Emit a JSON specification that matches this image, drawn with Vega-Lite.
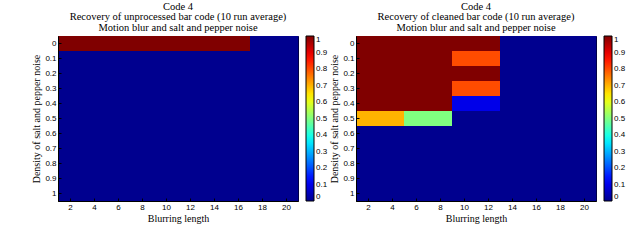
{
"$schema": "https://vega.github.io/schema/vega-lite/v6.json",
"background": "white",
"padding": {"left": 31, "top": 1, "right": 5, "bottom": 5},
"datasets": {
"unprocessed": [
{"b":1,"d":0,"v":1},{"b":2,"d":0,"v":1},{"b":3,"d":0,"v":1},{"b":4,"d":0,"v":1},{"b":5,"d":0,"v":1},{"b":6,"d":0,"v":1},{"b":7,"d":0,"v":1},{"b":8,"d":0,"v":1},{"b":9,"d":0,"v":1},{"b":10,"d":0,"v":1},{"b":11,"d":0,"v":1},{"b":12,"d":0,"v":1},{"b":13,"d":0,"v":1},{"b":14,"d":0,"v":1},{"b":15,"d":0,"v":1},{"b":16,"d":0,"v":1},{"b":17,"d":0,"v":0},{"b":18,"d":0,"v":0},{"b":19,"d":0,"v":0},{"b":20,"d":0,"v":0},
{"b":1,"d":0.1,"v":0},{"b":2,"d":0.1,"v":0},{"b":3,"d":0.1,"v":0},{"b":4,"d":0.1,"v":0},{"b":5,"d":0.1,"v":0},{"b":6,"d":0.1,"v":0},{"b":7,"d":0.1,"v":0},{"b":8,"d":0.1,"v":0},{"b":9,"d":0.1,"v":0},{"b":10,"d":0.1,"v":0},{"b":11,"d":0.1,"v":0},{"b":12,"d":0.1,"v":0},{"b":13,"d":0.1,"v":0},{"b":14,"d":0.1,"v":0},{"b":15,"d":0.1,"v":0},{"b":16,"d":0.1,"v":0},{"b":17,"d":0.1,"v":0},{"b":18,"d":0.1,"v":0},{"b":19,"d":0.1,"v":0},{"b":20,"d":0.1,"v":0},
{"b":1,"d":0.2,"v":0},{"b":2,"d":0.2,"v":0},{"b":3,"d":0.2,"v":0},{"b":4,"d":0.2,"v":0},{"b":5,"d":0.2,"v":0},{"b":6,"d":0.2,"v":0},{"b":7,"d":0.2,"v":0},{"b":8,"d":0.2,"v":0},{"b":9,"d":0.2,"v":0},{"b":10,"d":0.2,"v":0},{"b":11,"d":0.2,"v":0},{"b":12,"d":0.2,"v":0},{"b":13,"d":0.2,"v":0},{"b":14,"d":0.2,"v":0},{"b":15,"d":0.2,"v":0},{"b":16,"d":0.2,"v":0},{"b":17,"d":0.2,"v":0},{"b":18,"d":0.2,"v":0},{"b":19,"d":0.2,"v":0},{"b":20,"d":0.2,"v":0},
{"b":1,"d":0.3,"v":0},{"b":2,"d":0.3,"v":0},{"b":3,"d":0.3,"v":0},{"b":4,"d":0.3,"v":0},{"b":5,"d":0.3,"v":0},{"b":6,"d":0.3,"v":0},{"b":7,"d":0.3,"v":0},{"b":8,"d":0.3,"v":0},{"b":9,"d":0.3,"v":0},{"b":10,"d":0.3,"v":0},{"b":11,"d":0.3,"v":0},{"b":12,"d":0.3,"v":0},{"b":13,"d":0.3,"v":0},{"b":14,"d":0.3,"v":0},{"b":15,"d":0.3,"v":0},{"b":16,"d":0.3,"v":0},{"b":17,"d":0.3,"v":0},{"b":18,"d":0.3,"v":0},{"b":19,"d":0.3,"v":0},{"b":20,"d":0.3,"v":0},
{"b":1,"d":0.4,"v":0},{"b":2,"d":0.4,"v":0},{"b":3,"d":0.4,"v":0},{"b":4,"d":0.4,"v":0},{"b":5,"d":0.4,"v":0},{"b":6,"d":0.4,"v":0},{"b":7,"d":0.4,"v":0},{"b":8,"d":0.4,"v":0},{"b":9,"d":0.4,"v":0},{"b":10,"d":0.4,"v":0},{"b":11,"d":0.4,"v":0},{"b":12,"d":0.4,"v":0},{"b":13,"d":0.4,"v":0},{"b":14,"d":0.4,"v":0},{"b":15,"d":0.4,"v":0},{"b":16,"d":0.4,"v":0},{"b":17,"d":0.4,"v":0},{"b":18,"d":0.4,"v":0},{"b":19,"d":0.4,"v":0},{"b":20,"d":0.4,"v":0},
{"b":1,"d":0.5,"v":0},{"b":2,"d":0.5,"v":0},{"b":3,"d":0.5,"v":0},{"b":4,"d":0.5,"v":0},{"b":5,"d":0.5,"v":0},{"b":6,"d":0.5,"v":0},{"b":7,"d":0.5,"v":0},{"b":8,"d":0.5,"v":0},{"b":9,"d":0.5,"v":0},{"b":10,"d":0.5,"v":0},{"b":11,"d":0.5,"v":0},{"b":12,"d":0.5,"v":0},{"b":13,"d":0.5,"v":0},{"b":14,"d":0.5,"v":0},{"b":15,"d":0.5,"v":0},{"b":16,"d":0.5,"v":0},{"b":17,"d":0.5,"v":0},{"b":18,"d":0.5,"v":0},{"b":19,"d":0.5,"v":0},{"b":20,"d":0.5,"v":0},
{"b":1,"d":0.6,"v":0},{"b":2,"d":0.6,"v":0},{"b":3,"d":0.6,"v":0},{"b":4,"d":0.6,"v":0},{"b":5,"d":0.6,"v":0},{"b":6,"d":0.6,"v":0},{"b":7,"d":0.6,"v":0},{"b":8,"d":0.6,"v":0},{"b":9,"d":0.6,"v":0},{"b":10,"d":0.6,"v":0},{"b":11,"d":0.6,"v":0},{"b":12,"d":0.6,"v":0},{"b":13,"d":0.6,"v":0},{"b":14,"d":0.6,"v":0},{"b":15,"d":0.6,"v":0},{"b":16,"d":0.6,"v":0},{"b":17,"d":0.6,"v":0},{"b":18,"d":0.6,"v":0},{"b":19,"d":0.6,"v":0},{"b":20,"d":0.6,"v":0},
{"b":1,"d":0.7,"v":0},{"b":2,"d":0.7,"v":0},{"b":3,"d":0.7,"v":0},{"b":4,"d":0.7,"v":0},{"b":5,"d":0.7,"v":0},{"b":6,"d":0.7,"v":0},{"b":7,"d":0.7,"v":0},{"b":8,"d":0.7,"v":0},{"b":9,"d":0.7,"v":0},{"b":10,"d":0.7,"v":0},{"b":11,"d":0.7,"v":0},{"b":12,"d":0.7,"v":0},{"b":13,"d":0.7,"v":0},{"b":14,"d":0.7,"v":0},{"b":15,"d":0.7,"v":0},{"b":16,"d":0.7,"v":0},{"b":17,"d":0.7,"v":0},{"b":18,"d":0.7,"v":0},{"b":19,"d":0.7,"v":0},{"b":20,"d":0.7,"v":0},
{"b":1,"d":0.8,"v":0},{"b":2,"d":0.8,"v":0},{"b":3,"d":0.8,"v":0},{"b":4,"d":0.8,"v":0},{"b":5,"d":0.8,"v":0},{"b":6,"d":0.8,"v":0},{"b":7,"d":0.8,"v":0},{"b":8,"d":0.8,"v":0},{"b":9,"d":0.8,"v":0},{"b":10,"d":0.8,"v":0},{"b":11,"d":0.8,"v":0},{"b":12,"d":0.8,"v":0},{"b":13,"d":0.8,"v":0},{"b":14,"d":0.8,"v":0},{"b":15,"d":0.8,"v":0},{"b":16,"d":0.8,"v":0},{"b":17,"d":0.8,"v":0},{"b":18,"d":0.8,"v":0},{"b":19,"d":0.8,"v":0},{"b":20,"d":0.8,"v":0},
{"b":1,"d":0.9,"v":0},{"b":2,"d":0.9,"v":0},{"b":3,"d":0.9,"v":0},{"b":4,"d":0.9,"v":0},{"b":5,"d":0.9,"v":0},{"b":6,"d":0.9,"v":0},{"b":7,"d":0.9,"v":0},{"b":8,"d":0.9,"v":0},{"b":9,"d":0.9,"v":0},{"b":10,"d":0.9,"v":0},{"b":11,"d":0.9,"v":0},{"b":12,"d":0.9,"v":0},{"b":13,"d":0.9,"v":0},{"b":14,"d":0.9,"v":0},{"b":15,"d":0.9,"v":0},{"b":16,"d":0.9,"v":0},{"b":17,"d":0.9,"v":0},{"b":18,"d":0.9,"v":0},{"b":19,"d":0.9,"v":0},{"b":20,"d":0.9,"v":0},
{"b":1,"d":1,"v":0},{"b":2,"d":1,"v":0},{"b":3,"d":1,"v":0},{"b":4,"d":1,"v":0},{"b":5,"d":1,"v":0},{"b":6,"d":1,"v":0},{"b":7,"d":1,"v":0},{"b":8,"d":1,"v":0},{"b":9,"d":1,"v":0},{"b":10,"d":1,"v":0},{"b":11,"d":1,"v":0},{"b":12,"d":1,"v":0},{"b":13,"d":1,"v":0},{"b":14,"d":1,"v":0},{"b":15,"d":1,"v":0},{"b":16,"d":1,"v":0},{"b":17,"d":1,"v":0},{"b":18,"d":1,"v":0},{"b":19,"d":1,"v":0},{"b":20,"d":1,"v":0}
],
"cleaned": [
{"b":1,"d":0,"v":1},{"b":2,"d":0,"v":1},{"b":3,"d":0,"v":1},{"b":4,"d":0,"v":1},{"b":5,"d":0,"v":1},{"b":6,"d":0,"v":1},{"b":7,"d":0,"v":1},{"b":8,"d":0,"v":1},{"b":9,"d":0,"v":1},{"b":10,"d":0,"v":1},{"b":11,"d":0,"v":1},{"b":12,"d":0,"v":1},{"b":13,"d":0,"v":0},{"b":14,"d":0,"v":0},{"b":15,"d":0,"v":0},{"b":16,"d":0,"v":0},{"b":17,"d":0,"v":0},{"b":18,"d":0,"v":0},{"b":19,"d":0,"v":0},{"b":20,"d":0,"v":0},
{"b":1,"d":0.1,"v":1},{"b":2,"d":0.1,"v":1},{"b":3,"d":0.1,"v":1},{"b":4,"d":0.1,"v":1},{"b":5,"d":0.1,"v":1},{"b":6,"d":0.1,"v":1},{"b":7,"d":0.1,"v":1},{"b":8,"d":0.1,"v":1},{"b":9,"d":0.1,"v":0.8},{"b":10,"d":0.1,"v":0.8},{"b":11,"d":0.1,"v":0.8},{"b":12,"d":0.1,"v":0.8},{"b":13,"d":0.1,"v":0},{"b":14,"d":0.1,"v":0},{"b":15,"d":0.1,"v":0},{"b":16,"d":0.1,"v":0},{"b":17,"d":0.1,"v":0},{"b":18,"d":0.1,"v":0},{"b":19,"d":0.1,"v":0},{"b":20,"d":0.1,"v":0},
{"b":1,"d":0.2,"v":1},{"b":2,"d":0.2,"v":1},{"b":3,"d":0.2,"v":1},{"b":4,"d":0.2,"v":1},{"b":5,"d":0.2,"v":1},{"b":6,"d":0.2,"v":1},{"b":7,"d":0.2,"v":1},{"b":8,"d":0.2,"v":1},{"b":9,"d":0.2,"v":1},{"b":10,"d":0.2,"v":1},{"b":11,"d":0.2,"v":1},{"b":12,"d":0.2,"v":1},{"b":13,"d":0.2,"v":0},{"b":14,"d":0.2,"v":0},{"b":15,"d":0.2,"v":0},{"b":16,"d":0.2,"v":0},{"b":17,"d":0.2,"v":0},{"b":18,"d":0.2,"v":0},{"b":19,"d":0.2,"v":0},{"b":20,"d":0.2,"v":0},
{"b":1,"d":0.3,"v":1},{"b":2,"d":0.3,"v":1},{"b":3,"d":0.3,"v":1},{"b":4,"d":0.3,"v":1},{"b":5,"d":0.3,"v":1},{"b":6,"d":0.3,"v":1},{"b":7,"d":0.3,"v":1},{"b":8,"d":0.3,"v":1},{"b":9,"d":0.3,"v":0.8},{"b":10,"d":0.3,"v":0.8},{"b":11,"d":0.3,"v":0.8},{"b":12,"d":0.3,"v":0.8},{"b":13,"d":0.3,"v":0},{"b":14,"d":0.3,"v":0},{"b":15,"d":0.3,"v":0},{"b":16,"d":0.3,"v":0},{"b":17,"d":0.3,"v":0},{"b":18,"d":0.3,"v":0},{"b":19,"d":0.3,"v":0},{"b":20,"d":0.3,"v":0},
{"b":1,"d":0.4,"v":1},{"b":2,"d":0.4,"v":1},{"b":3,"d":0.4,"v":1},{"b":4,"d":0.4,"v":1},{"b":5,"d":0.4,"v":1},{"b":6,"d":0.4,"v":1},{"b":7,"d":0.4,"v":1},{"b":8,"d":0.4,"v":1},{"b":9,"d":0.4,"v":0.1},{"b":10,"d":0.4,"v":0.1},{"b":11,"d":0.4,"v":0.1},{"b":12,"d":0.4,"v":0.1},{"b":13,"d":0.4,"v":0},{"b":14,"d":0.4,"v":0},{"b":15,"d":0.4,"v":0},{"b":16,"d":0.4,"v":0},{"b":17,"d":0.4,"v":0},{"b":18,"d":0.4,"v":0},{"b":19,"d":0.4,"v":0},{"b":20,"d":0.4,"v":0},
{"b":1,"d":0.5,"v":0.7},{"b":2,"d":0.5,"v":0.7},{"b":3,"d":0.5,"v":0.7},{"b":4,"d":0.5,"v":0.7},{"b":5,"d":0.5,"v":0.5},{"b":6,"d":0.5,"v":0.5},{"b":7,"d":0.5,"v":0.5},{"b":8,"d":0.5,"v":0.5},{"b":9,"d":0.5,"v":0},{"b":10,"d":0.5,"v":0},{"b":11,"d":0.5,"v":0},{"b":12,"d":0.5,"v":0},{"b":13,"d":0.5,"v":0},{"b":14,"d":0.5,"v":0},{"b":15,"d":0.5,"v":0},{"b":16,"d":0.5,"v":0},{"b":17,"d":0.5,"v":0},{"b":18,"d":0.5,"v":0},{"b":19,"d":0.5,"v":0},{"b":20,"d":0.5,"v":0},
{"b":1,"d":0.6,"v":0},{"b":2,"d":0.6,"v":0},{"b":3,"d":0.6,"v":0},{"b":4,"d":0.6,"v":0},{"b":5,"d":0.6,"v":0},{"b":6,"d":0.6,"v":0},{"b":7,"d":0.6,"v":0},{"b":8,"d":0.6,"v":0},{"b":9,"d":0.6,"v":0},{"b":10,"d":0.6,"v":0},{"b":11,"d":0.6,"v":0},{"b":12,"d":0.6,"v":0},{"b":13,"d":0.6,"v":0},{"b":14,"d":0.6,"v":0},{"b":15,"d":0.6,"v":0},{"b":16,"d":0.6,"v":0},{"b":17,"d":0.6,"v":0},{"b":18,"d":0.6,"v":0},{"b":19,"d":0.6,"v":0},{"b":20,"d":0.6,"v":0},
{"b":1,"d":0.7,"v":0},{"b":2,"d":0.7,"v":0},{"b":3,"d":0.7,"v":0},{"b":4,"d":0.7,"v":0},{"b":5,"d":0.7,"v":0},{"b":6,"d":0.7,"v":0},{"b":7,"d":0.7,"v":0},{"b":8,"d":0.7,"v":0},{"b":9,"d":0.7,"v":0},{"b":10,"d":0.7,"v":0},{"b":11,"d":0.7,"v":0},{"b":12,"d":0.7,"v":0},{"b":13,"d":0.7,"v":0},{"b":14,"d":0.7,"v":0},{"b":15,"d":0.7,"v":0},{"b":16,"d":0.7,"v":0},{"b":17,"d":0.7,"v":0},{"b":18,"d":0.7,"v":0},{"b":19,"d":0.7,"v":0},{"b":20,"d":0.7,"v":0},
{"b":1,"d":0.8,"v":0},{"b":2,"d":0.8,"v":0},{"b":3,"d":0.8,"v":0},{"b":4,"d":0.8,"v":0},{"b":5,"d":0.8,"v":0},{"b":6,"d":0.8,"v":0},{"b":7,"d":0.8,"v":0},{"b":8,"d":0.8,"v":0},{"b":9,"d":0.8,"v":0},{"b":10,"d":0.8,"v":0},{"b":11,"d":0.8,"v":0},{"b":12,"d":0.8,"v":0},{"b":13,"d":0.8,"v":0},{"b":14,"d":0.8,"v":0},{"b":15,"d":0.8,"v":0},{"b":16,"d":0.8,"v":0},{"b":17,"d":0.8,"v":0},{"b":18,"d":0.8,"v":0},{"b":19,"d":0.8,"v":0},{"b":20,"d":0.8,"v":0},
{"b":1,"d":0.9,"v":0},{"b":2,"d":0.9,"v":0},{"b":3,"d":0.9,"v":0},{"b":4,"d":0.9,"v":0},{"b":5,"d":0.9,"v":0},{"b":6,"d":0.9,"v":0},{"b":7,"d":0.9,"v":0},{"b":8,"d":0.9,"v":0},{"b":9,"d":0.9,"v":0},{"b":10,"d":0.9,"v":0},{"b":11,"d":0.9,"v":0},{"b":12,"d":0.9,"v":0},{"b":13,"d":0.9,"v":0},{"b":14,"d":0.9,"v":0},{"b":15,"d":0.9,"v":0},{"b":16,"d":0.9,"v":0},{"b":17,"d":0.9,"v":0},{"b":18,"d":0.9,"v":0},{"b":19,"d":0.9,"v":0},{"b":20,"d":0.9,"v":0},
{"b":1,"d":1,"v":0},{"b":2,"d":1,"v":0},{"b":3,"d":1,"v":0},{"b":4,"d":1,"v":0},{"b":5,"d":1,"v":0},{"b":6,"d":1,"v":0},{"b":7,"d":1,"v":0},{"b":8,"d":1,"v":0},{"b":9,"d":1,"v":0},{"b":10,"d":1,"v":0},{"b":11,"d":1,"v":0},{"b":12,"d":1,"v":0},{"b":13,"d":1,"v":0},{"b":14,"d":1,"v":0},{"b":15,"d":1,"v":0},{"b":16,"d":1,"v":0},{"b":17,"d":1,"v":0},{"b":18,"d":1,"v":0},{"b":19,"d":1,"v":0},{"b":20,"d":1,"v":0}
]
},
"spacing": 0,
"resolve": {"scale": {"color": "independent"}, "legend": {"color": "independent"}},
"hconcat": [
{
"title": {"text": ["Code 4", "Recovery of unprocessed bar code (10 run average)", "Motion blur and salt and pepper noise"]},
"data": {"name": "unprocessed"},
"width": 240, "height": 165,
"mark": {"type": "rect", "binSpacing": 0, "x2Offset": -0.5, "y2Offset": -0.5},
"encoding": {
"x": {"field": "b", "type": "quantitative", "bin": {"step": 1, "extent": [1, 21]}, "scale": {"domain": [1, 21], "nice": false, "zero": false}, "axis": {"values": [2,4,6,8,10,12,14,16,18,20], "title": "Blurring length", "format": "d"}},
"y": {"field": "d", "type": "ordinal", "sort": "ascending", "scale": {"paddingInner": 0, "paddingOuter": 0}, "axis": {"title": "Density of salt and pepper noise"}},
"color": {"field": "v", "type": "quantitative", "scale": {"domain": [0, 0.125, 0.375, 0.625, 0.875, 1], "range": ["#00008f", "#0000ff", "#00ffff", "#ffff00", "#ff0000", "#800000"], "interpolate": "rgb"}, "legend": {"title": null, "format": "~g", "values": [0,0.1,0.2,0.3,0.4,0.5,0.6,0.7,0.8,0.9,1]}}
}
},
{
"title": {"text": ["Code 4", "Recovery of cleaned bar code (10 run average)", "Motion blur and salt and pepper noise"]},
"data": {"name": "cleaned"},
"width": 240, "height": 165,
"mark": {"type": "rect", "binSpacing": 0, "x2Offset": -0.5, "y2Offset": -0.5},
"encoding": {
"x": {"field": "b", "type": "quantitative", "bin": {"step": 1, "extent": [1, 21]}, "scale": {"domain": [1, 21], "nice": false, "zero": false}, "axis": {"values": [2,4,6,8,10,12,14,16,18,20], "title": "Blurring length", "format": "d"}},
"y": {"field": "d", "type": "ordinal", "sort": "ascending", "scale": {"paddingInner": 0, "paddingOuter": 0}, "axis": {"title": "Density of salt and pepper noise"}},
"color": {"field": "v", "type": "quantitative", "scale": {"domain": [0, 0.125, 0.375, 0.625, 0.875, 1], "range": ["#00008f", "#0000ff", "#00ffff", "#ffff00", "#ff0000", "#800000"], "interpolate": "rgb"}, "legend": {"title": null, "format": "~g", "values": [0,0.1,0.2,0.3,0.4,0.5,0.6,0.7,0.8,0.9,1]}}
}
}
],
"config": {
"view": {"stroke": "black", "strokeWidth": 1},
"title": {"font": "Liberation Serif", "fontSize": 10.5, "fontWeight": "normal", "color": "black", "lineHeight": 10.5, "offset": 3, "anchor": "middle"},
"axis": {"labelFont": "Liberation Sans", "labelFontSize": 8, "labelColor": "black", "titleFont": "Liberation Serif", "titleFontSize": 10, "titleFontWeight": "normal", "titleColor": "black", "domainColor": "black", "tickColor": "black", "tickSize": -3, "labelPadding": 5, "grid": false, "labelAngle": 0},
"axisY": {"titlePadding": 3},
"axisX": {"titlePadding": 2},
"legend": {"gradientLength": 165, "gradientThickness": 8, "gradientStrokeColor": "black", "gradientStrokeWidth": 1, "labelFont": "Liberation Sans", "labelFontSize": 8, "labelColor": "black", "labelOffset": 2, "offset": 8, "padding": 0, "labelOverlap": false}
}
}
